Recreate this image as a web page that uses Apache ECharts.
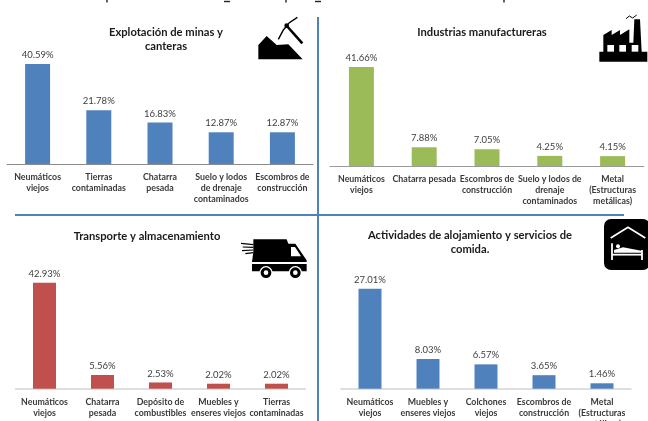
<!DOCTYPE html>
<html><head><meta charset="utf-8">
<style>html,body{margin:0;padding:0;background:#fff;overflow:hidden}#c{width:648px;height:421px;filter:blur(0.4px)}</style>
<script src="https://cdn.jsdelivr.net/npm/echarts@6/dist/echarts.min.js"></script>
</head><body><div id="c"></div>
<script>
const titleMinas = "Explotación de minas y\ncanteras";
const catsMinas = ["Neumáticos\nviejos","Tierras\ncontaminadas","Chatarra\npesada","Suelo y lodos\nde drenaje\ncontaminados","Escombros de\nconstrucción"];
const valsMinas = [40.59,21.78,16.83,12.87,12.87];
const titleManuf = "Industrias manufactureras";
const catsManuf = ["Neumáticos\nviejos","Chatarra pesada","Escombros de\nconstrucción","Suelo y lodos de\ndrenaje\ncontaminados","Metal\n(Estructuras\nmetálicas)"];
const valsManuf = [41.66,7.88,7.05,4.25,4.15];
const titleTrans = "Transporte y almacenamiento";
const catsTrans = ["Neumáticos\nviejos","Chatarra\npesada","Depósito de\ncombustibles","Muebles y\nenseres viejos","Tierras\ncontaminadas"];
const valsTrans = [42.93,5.56,2.53,2.02,2.02];
const titleAloj = "Actividades de alojamiento y servicios de\ncomida.";
const catsAloj = ["Neumáticos\nviejos","Muebles y\nenseres viejos","Colchones\nviejos","Escombros de\nconstrucción","Metal\n(Estructuras\nmetálicas)"];
const valsAloj = [27.01,8.03,6.57,3.65,1.46];

const FONT = 'Lato, sans-serif';
const panels = [
 {t:titleMinas,c:catsMinas,v:valsMinas,col:'#4f81bd',left:7,width:306,top:64,h:100,bw:25,line:'#8c8c8c',lw:1,tx:166,ty:25},
 {t:titleManuf,c:catsManuf,v:valsManuf,col:'#9bbb59',left:330,width:314,top:67,h:99,bw:25,line:'#9a9a9a',lw:1,tx:482,ty:25},
 {t:titleTrans,c:catsTrans,v:valsTrans,col:'#c0504d',left:15.5,width:290,top:282.7,h:106,bw:23,line:'#d4d4d4',lw:1.5,tx:147,ty:229},
 {t:titleAloj,c:catsAloj,v:valsAloj,col:'#4f81bd',left:341,width:290,top:288.7,h:100,bw:23,line:'#d4d4d4',lw:1.5,tx:470,ty:228}
];
const K='#000';
function poly(pts,ox,oy,fill){return {type:'polygon',shape:{points:pts.map(p=>[ox+p[0]/3,oy+p[1]/3])},style:{fill:fill||K}};}
function pline(pts,ox,oy,w,col){return {type:'polyline',shape:{points:pts.map(p=>[ox+p[0]/3,oy+p[1]/3])},style:{stroke:col||K,lineWidth:w,fill:'none'}};}
function circ(x,y,r,ox,oy,fill){return {type:'circle',shape:{cx:ox+x/3,cy:oy+y/3,r:r/3},style:{fill:fill||K}};}
const icons=[
 {type:'line',shape:{x1:318,y1:17,x2:318,y2:421},style:{stroke:'#4f81bd',lineWidth:2}},
 {type:'line',shape:{x1:15,y1:215,x2:624,y2:215},style:{stroke:'#4f81bd',lineWidth:2}},
 poly([[25,148],[25,105],[50,78],[80,105],[115,103],[158,148]],250,10),
 pline([[108,45],[157,100]],250,10,2.6),
 pline([[85,88],[100,60],[118,38],[142,22]],250,10,1.4),
 circ(110,47,7,250,10),
 poly([[28,155],[28,125],[40,125],[40,75],[65,60],[65,75],[90,60],[90,75],[118,58],[118,98],[130,98],[133,28],[150,28],[155,125],[172,125],[172,155]],590,10),
 poly([[52,105],[72,105],[72,125],[52,125]],590,10,'#fff'),
 poly([[88,105],[108,105],[108,125],[88,125]],590,10,'#fff'),
 poly([[125,105],[145,105],[145,125],[125,125]],590,10,'#fff'),
 pline([[108,26],[118,18],[128,24],[140,15]],590,10,1),
 poly([[52,22],[152,22],[157,35],[178,35],[212,85],[212,118],[48,118],[48,90],[52,60]],236,232),
 poly([[165,45],[177,45],[195,73],[165,73]],236,232,'#fff'),
 pline([[44,93],[214,93]],236,232,2,'#fff'),
 pline([[15,34],[52,38]],236,232,1.2),pline([[20,45],[52,46]],236,232,1.2),pline([[18,56],[52,54]],236,232,1.2),pline([[28,65],[52,62]],236,232,1.2),
 circ(90,122,20,236,232,'#fff'),circ(90,122,16,236,232),circ(90,122,7,236,232,'#fff'),
 circ(178,122,20,236,232,'#fff'),circ(178,122,16,236,232),circ(178,122,7,236,232,'#fff'),
 {type:'rect',shape:{x:604,y:219,width:46,height:51,r:7},style:{fill:K}},
 pline([[38,72],[90,40],[142,72]],598,214,1.8,'#fff'),
 pline([[42,88],[42,138]],598,214,1.8,'#fff'),
 pline([[132,108],[132,138]],598,214,1.8,'#fff'),
 pline([[42,122],[132,122]],598,214,1.8,'#fff'),
 poly([[48,108],[75,100],[130,110],[130,116],[48,116]],598,214,'#fff'),
 circ(60,97,6,598,214,'#fff')
];
[[107],[286],[504]].forEach(a=>icons.push({type:'line',shape:{x1:a[0],y1:0,x2:a[0],y2:2.5},style:{stroke:'#222',lineWidth:1.4}}));
[[227],[318]].forEach(a=>icons.push({type:'line',shape:{x1:a[0]-3,y1:1.5,x2:a[0]+3,y2:1.5},style:{stroke:'#222',lineWidth:1.4}}));

const chart=echarts.init(document.getElementById('c'),null,{renderer:'canvas'});
chart.setOption({
 animation:false,
 title:panels.map(p=>({text:p.t,left:p.tx,top:p.ty,padding:0,textAlign:'center',textStyle:{fontFamily:FONT,fontSize:11.2,fontWeight:'bold',color:'#1a1a1a',lineHeight:14.5}})),
 grid:panels.map(p=>({left:p.left,width:p.width,top:p.top,height:p.h,containLabel:false,outerBoundsMode:'none'})),
 xAxis:panels.map((p,i)=>({type:'category',gridIndex:i,data:p.c,axisTick:{show:false},
   axisLine:{lineStyle:{color:p.line,width:p.lw}},
   axisLabel:{interval:0,margin:8,fontFamily:FONT,fontSize:8.8,fontWeight:'bold',color:'#3a3a3a',lineHeight:11,hideOverlap:false}})),
 yAxis:panels.map((p,i)=>({type:'value',gridIndex:i,min:0,max:Math.max(...p.v),show:false,splitLine:{show:false}})),
 series:panels.map((p,i)=>({type:'bar',xAxisIndex:i,yAxisIndex:i,data:p.v,barWidth:p.bw,
   itemStyle:{color:p.col},
   label:{show:true,position:'top',distance:4,formatter:o=>o.value.toFixed(2)+'%',fontFamily:FONT,fontSize:9.5,color:'#404040'}})),
 graphic:{elements:icons}
});
</script></body></html>
